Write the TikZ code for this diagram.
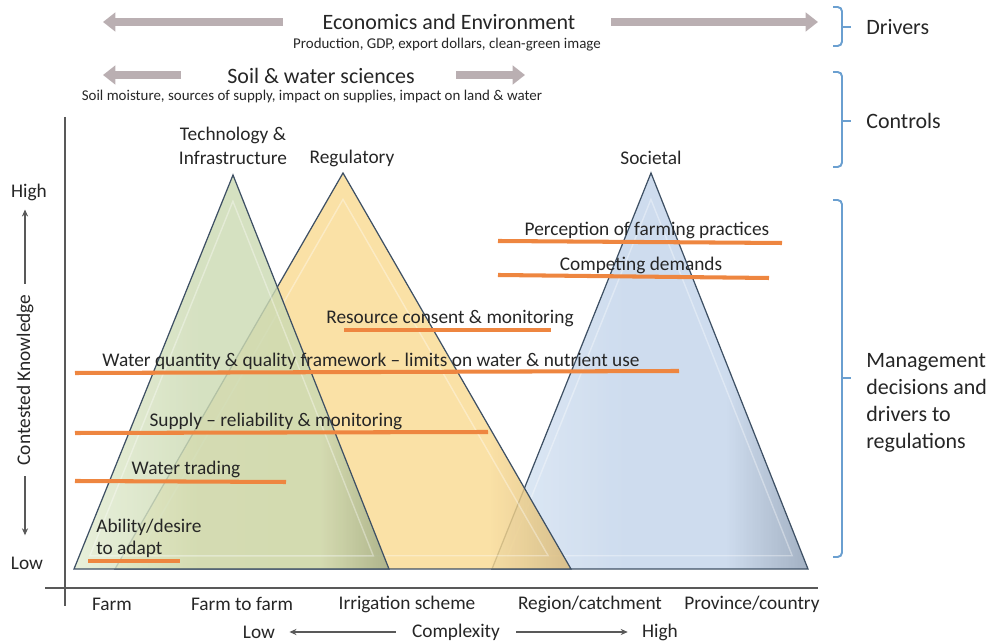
\documentclass[tikz,border=0pt]{standalone}
\usepackage{fontspec}
\setmainfont{Carlito}
\usepackage{tikz}
\usetikzlibrary{positioning,arrows.meta,calc}

\definecolor{inkgray}{HTML}{262626}
\definecolor{axisgray}{HTML}{595959}
\definecolor{drivegray}{HTML}{BAAFB2}
\definecolor{bracketblue}{HTML}{6A9FD0}
\definecolor{edgeslate}{HTML}{3E5064}
\definecolor{barorange}{HTML}{EE8640}
\definecolor{techL}{HTML}{E3ECD2}
\definecolor{techM}{HTML}{CCDAB3}
\definecolor{techR}{HTML}{9FAB86}
\definecolor{regL}{HTML}{FCE6B0}
\definecolor{regM}{HTML}{F9DA92}
\definecolor{regR}{HTML}{D9B877}
\definecolor{socL}{HTML}{D8E5F3}
\definecolor{socM}{HTML}{C3D4EA}
\definecolor{socR}{HTML}{8E9FB5}

\pgfdeclarehorizontalshading{techshade}{100bp}{color(0bp)=(techL); color(25bp)=(techL); color(45bp)=(techM); color(64bp)=(techM); color(75bp)=(techR); color(100bp)=(techR)}
\pgfdeclarehorizontalshading{regshade}{100bp}{color(0bp)=(regL); color(25bp)=(regL); color(42bp)=(regM); color(66bp)=(regM); color(75bp)=(regR); color(100bp)=(regR)}
\pgfdeclarehorizontalshading{socshade}{100bp}{color(0bp)=(socL); color(25bp)=(socL); color(46bp)=(socM); color(62bp)=(socM); color(75bp)=(socR); color(100bp)=(socR)}

\begin{document}
\begin{tikzpicture}[x=0.02cm,y=-0.02cm,
every node/.style={text=inkgray,inner sep=0pt},
lbl/.style={font=\fontsize{11}{13.6}\selectfont},
head/.style={font=\fontsize{12.5}{15.3}\selectfont},
subhead/.style={font=\fontsize{8.5}{10}\selectfont},
drive/.style={drivegray,line width=4.6pt,-{Triangle[length=7pt,width=10.5pt]}},
thinarr/.style={axisgray,line width=0.6pt,-{Stealth[length=4pt,width=3.5pt]}},
axis/.style={axisgray,line width=0.8pt},
brack/.style={bracketblue,line width=1.1pt,rounded corners=2.5pt},
pyr/.style={draw=edgeslate,line width=0.7pt,fill opacity=0.82},
bevel/.style={white,line width=0.8pt,opacity=0.35},
bar/.style={barorange,line width=2.3pt}]

\useasboundingbox (0,0) rectangle (992,644);

% drivers and controls along the top
\node[head] (econ) at (449,22) {Economics and Environment};
\node[subhead] (econsub) at (447,45) {Production, GDP, export dollars, clean-green image};
\node[head] (soil) at (321,76) {Soil \& water sciences};
\node[subhead] (soilsub) at (312,97) {Soil moisture, sources of supply, impact on supplies, impact on land \& water};

\coordinate (econLs) at (283,22);
\coordinate (econLt) at (103,22);
\coordinate (econRs) at (611,22);
\coordinate (econRt) at (818,22);
\coordinate (soilLs) at (181,75);
\coordinate (soilLt) at (103,75);
\coordinate (soilRs) at (456,75);
\coordinate (soilRt) at (525,75);
\draw[drive] (econLs) -- (econLt);
\draw[drive] (econRs) -- (econRt);
\draw[drive] (soilLs) -- (soilLt);
\draw[drive] (soilRs) -- (soilRt);

% brackets on the right
\foreach \t/\m/\b in {7/27/46,72/121/167,200/378/557}{
  \draw[brack] (833,\t) -- (842,\t) -- (842,\b) -- (833,\b);
  \draw[bracketblue,line width=1.1pt] (842,\m) -- (851,\m);
}
\node[head,anchor=west] (drivers) at (866,27) {Drivers};
\node[head,anchor=west] (controls) at (866,121) {Controls};
\node[head,anchor=west,align=left] (mgmt) at (866,403) {Management\\decisions and\\drivers to\\regulations};

% axes
\coordinate (ytop) at (65,117);
\coordinate (ybot) at (65,606);
\coordinate (xleft) at (45,588);
\coordinate (xright) at (818,588);
\draw[axis] (ytop) -- (ybot);
\draw[axis] (xleft) -- (xright);

% pyramids
\coordinate (socA) at (651,173);
\coordinate (socL) at (492,569);
\coordinate (socR) at (808,569);
\coordinate (regA) at (343,173);
\coordinate (regL) at (115,569);
\coordinate (regR) at (571,569);
\coordinate (techA) at (233,175);
\coordinate (techL) at (74,569);
\coordinate (techR) at (389,569);

\foreach \p in {soc,reg,tech}{
  \coordinate (\p C) at (barycentric cs:\p A=1,\p L=1,\p R=1);
  \draw[pyr,shading=\p shade]
    (\p A) -- (\p L) -- (\p R) -- cycle;
  \draw[bevel] ($(\p A)!0.1!(\p C)$) -- ($(\p L)!0.1!(\p C)$)
    -- ($(\p R)!0.1!(\p C)$) -- cycle;
}

\node[lbl,align=center] (tech) at (233,146) {Technology \&\\Infrastructure};
\node[lbl] (regul) at (352,158) {Regulatory};
\node[lbl] (societal) at (651,158) {Societal};

% decisions and drivers
\draw[bar] (498,241) -- (782,243);
\draw[bar] (498,275) -- (769,278);
\draw[bar] (344,330) -- (551,330);
\draw[bar] (75,373) -- (679,371);
\draw[bar] (75,433) -- (488,432);
\draw[bar] (75,481) -- (286,482);
\draw[bar] (88,561) -- (180,561);
\node[lbl] (percept) at (647,230) {Perception of farming practices};
\node[lbl] (compete) at (641,265) {Competing demands};
\node[lbl] (consent) at (450,319) {Resource consent \& monitoring};
\node[lbl] (quantity) at (371,361) {Water quantity \& quality framework -- limits on water \& nutrient use};
\node[lbl] (supply) at (276,421) {Supply -- reliability \& monitoring};
\node[lbl] (trading) at (186,469) {Water trading};
\node[lbl,anchor=west,align=left,font=\fontsize{11}{12.5}\selectfont] (adapt) at (96,538) {Ability/desire\\to adapt};

% contested knowledge
\node[lbl] (khigh) at (29,192) {High};
\node[lbl] (klow) at (27,563) {Low};
\node[lbl,rotate=90] (ckn) at (25,380) {Contested Knowledge};
\draw[thinarr,shorten <=6pt,shorten >=5pt] (ckn.east) -- (ckn.east |- khigh.south);
\draw[thinarr,shorten <=6pt,shorten >=12pt] (ckn.west) -- (ckn.west |- klow.north);

% scale of complexity
\node[lbl] (farm) at (112,604) {Farm};
\node[lbl] (f2f) at (242,604) {Farm to farm};
\node[lbl] (irrig) at (407,604) {Irrigation scheme};
\node[lbl] (region) at (590,604) {Region/catchment};
\node[lbl] (prov) at (752,604) {Province/country};
\node[lbl] (cplow) at (259,632) {Low};
\node[lbl] (cplx) at (456,632) {Complexity};
\node[lbl] (cphigh) at (660,632) {High};
\draw[thinarr,shorten <=9pt,shorten >=8pt] (cplx) -- (cplow);
\draw[thinarr,shorten <=9pt,shorten >=8pt] (cplx) -- (cphigh);
\end{tikzpicture}
\end{document}
